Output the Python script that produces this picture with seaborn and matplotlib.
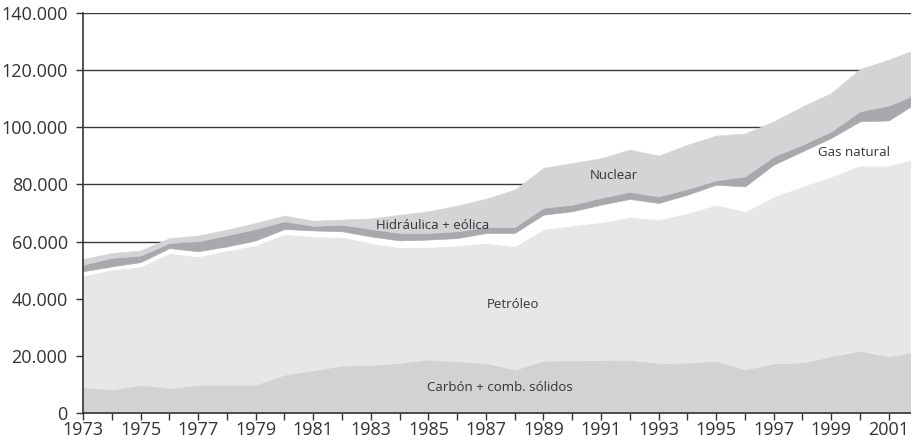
import seaborn as sns
import matplotlib.pyplot as plt
from matplotlib.ticker import FuncFormatter

# Consumo de energía primaria por fuente
years = list(range(1973, 2003))
carbon = [9000, 8200, 9900, 8700, 9900, 9900, 9900, 13400, 14900, 16600,
          16800, 17500, 18700, 18100, 17500, 15200, 18300, 18400, 18500, 18600,
          17500, 17600, 18300, 15200, 17300, 17700, 19800, 21800, 19700, 21600]
petroleo = [39100, 42000, 41400, 47300, 44900, 47000, 48800, 49200, 46900, 45000,
            42700, 40500, 39400, 40500, 42000, 43100, 46100, 47200, 48300, 50000,
            50200, 52400, 54600, 55400, 58500, 61600, 63000, 64800, 66900, 67700]
gas = [1500, 1100, 1500, 1700, 1800, 1400, 1700, 1800, 2100, 2000,
       2300, 2400, 2600, 2600, 3500, 4700, 5000, 5000, 6100, 6300,
       5800, 6400, 7000, 8700, 11100, 12300, 13500, 15500, 15800, 19500]
hidraulica = [2300, 3000, 2300, 1800, 3500, 3900, 4000, 2700, 1600, 2300,
              2600, 2600, 2300, 2400, 2100, 2100, 2400, 2300, 2400, 2500,
              2300, 2000, 1500, 3500, 2900, 2300, 2300, 3500, 5200, 3000]
nuclear = [2000, 1700, 1800, 1700, 2000, 2000, 2100, 2000, 1800, 1800,
           3700, 6400, 7600, 9000, 9900, 13100, 14000, 14600, 13900, 14800,
           14300, 15500, 15700, 15000, 12300, 13400, 13400, 14800, 16100, 15700]

colors = ['#d1d2d4', '#e6e7e8', '#ffffff', '#a7a9ac', '#d3d4d6']

sns.set_style('white')
plt.rcParams['font.family'] = ['Open Sans', 'DejaVu Sans']

fig = plt.figure(figsize=(9.11, 4.44), dpi=100)
ax = fig.add_axes([83 / 911, 31 / 444, 828 / 911, 400 / 444])

ax.stackplot(years, carbon, petroleo, gas, hidraulica, nuclear,
             colors=colors, linewidth=0.4, edgecolor='face')

ax.set_xlim(1973, 2001.77)
ax.set_ylim(0, 140000)
ax.set_yticks(range(0, 140001, 20000))
ax.yaxis.set_major_formatter(FuncFormatter(lambda v, p: f'{int(v):,}'.replace(',', '.')))
ax.set_xticks(years[:-1])
ax.set_xticklabels([str(y) if (y - 1973) % 2 == 0 else '' for y in years[:-1]])

ax.set_axisbelow(True)
ax.yaxis.grid(True, color='#3a3a3a', linewidth=1)
ax.xaxis.grid(False)
for s in ['top', 'right']:
    ax.spines[s].set_visible(False)
for s in ['left', 'bottom']:
    ax.spines[s].set_color('#333333')
    ax.spines[s].set_linewidth(1.2)
ax.tick_params(axis='both', direction='out', length=5, width=1, color='#333333',
               labelsize=13, labelcolor='#333333', bottom=True, left=True)
ax.tick_params(axis='y', pad=6)
ax.tick_params(axis='x', pad=1)

lab = dict(fontsize=9.5, color='#333333', ha='center', va='center')
ax.text(1987.5, 9000, 'Carbón + comb. sólidos', **lab)
ax.text(1987.95, 38000, 'Petróleo', **lab)
ax.text(1985.15, 65500, 'Hidráulica + eólica', **lab)
ax.text(1991.45, 83000, 'Nuclear', **lab)
ax.text(2001.8 - (911 - 853) / 28.75, 91200, 'Gas natural', **lab)

fig.savefig('out.png', dpi=100)
